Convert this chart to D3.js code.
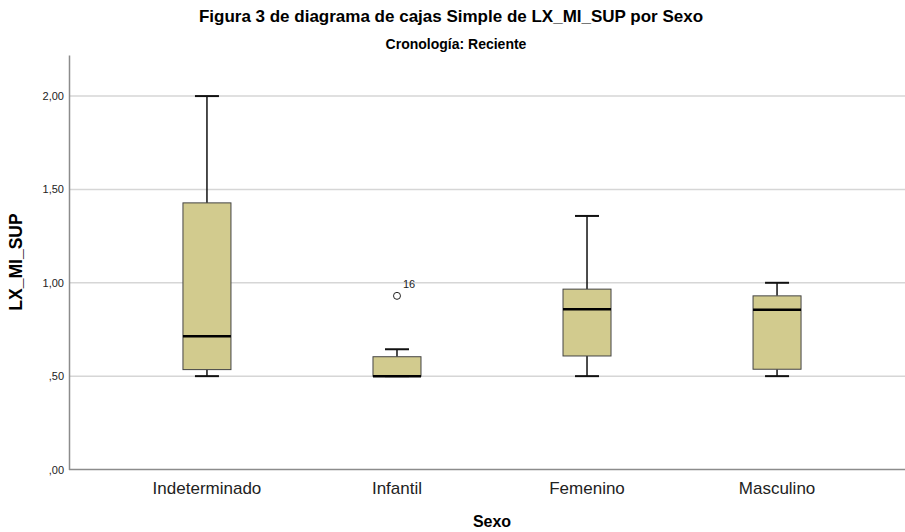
<!DOCTYPE html>
<html>
<head>
<meta charset="utf-8">
<script src="https://cdn.jsdelivr.net/npm/d3@7"></script>
<style>
  body { margin: 0; background: #fff; }
  text { font-family: "Liberation Sans Narrow", "Liberation Sans", Arial, sans-serif; }
</style>
</head>
<body>
<svg id="chart"></svg>
<script>
// data
const categories = ['Indeterminado', 'Infantil', 'Femenino', 'Masculino'];
const whiskerLow = [0.50, 0.50, 0.50, 0.50];
const q1 = [0.535, 0.50, 0.608, 0.537];
const medians = [0.714, 0.50, 0.858, 0.856];
const q3 = [1.428, 0.604, 0.966, 0.93];
const whiskerHigh = [2.00, 0.644, 1.358, 1.00];
const outliers = [{cat: 'Infantil', value: 0.93, label: '16'}];
const yTicks = [0, 0.5, 1, 1.5, 2];
const yTickLabels = [',00', ',50', '1,00', '1,50', '2,00'];

const width = 905, height = 532;
const svg = d3.select('#chart').attr('width', width).attr('height', height);

// scales
const x = d3.scaleBand()
  .domain(categories)
  .range([69, 915]) // plot runs a bit past the right edge
  .paddingOuter(0.226)
  .paddingInner(0);
const y = d3.scaleLinear()
  .domain([0, 2.22])
  .range([469.5, 55]);

// gridlines
svg.append('g')
  .selectAll('line')
  .data(yTicks.filter(d => d > 0))
  .enter()
  .append('line')
    .attr('x1', 69).attr('x2', width)
    .attr('y1', d => y(d)).attr('y2', d => y(d))
    .attr('stroke', '#d6d6d6')
    .attr('stroke-width', 1.5);

// y axis
const yAxis = d3.axisLeft(y).tickValues(yTicks).tickSize(0).tickPadding(5)
  .tickFormat((d, i) => yTickLabels[i]);
const gy = svg.append('g').attr('transform', 'translate(69,0)').call(yAxis);
gy.select('.domain').attr('stroke', '#8c8c8c').attr('stroke-width', 1.5);
gy.selectAll('text').attr('font-size', 11).attr('fill', '#222')
  .style('font-family', '"Liberation Sans", Arial, sans-serif');

// x axis
const xAxis = d3.axisBottom(x).tickSize(0).tickPadding(12);
const gx = svg.append('g').attr('transform', 'translate(0,469.5)').call(xAxis);
gx.select('.domain').attr('d', 'M69,0H' + width).attr('stroke', '#8c8c8c').attr('stroke-width', 1.5);
gx.selectAll('text').attr('font-size', 17).attr('fill', '#222');

// boxes
const boxW = 48, capW = 24;
const boxes = categories.map((c, i) => ({
  cat: c, lo: whiskerLow[i], q1: q1[i], med: medians[i], q3: q3[i], hi: whiskerHigh[i]
}));
const g = svg.append('g').selectAll('g').data(boxes).enter().append('g')
  .attr('transform', d => 'translate(' + (x(d.cat) + x.bandwidth() / 2) + ',0)');

g.append('line') // upper whisker
  .attr('x1', 0).attr('x2', 0)
  .attr('y1', d => y(d.q3)).attr('y2', d => y(d.hi))
  .attr('stroke', '#111').attr('stroke-width', 1.5);
g.append('line') // lower whisker
  .attr('x1', 0).attr('x2', 0)
  .attr('y1', d => y(d.q1)).attr('y2', d => y(d.lo))
  .attr('stroke', '#111').attr('stroke-width', 1.5);
g.append('line')
  .attr('x1', -capW / 2).attr('x2', capW / 2)
  .attr('y1', d => y(d.hi)).attr('y2', d => y(d.hi))
  .attr('stroke', '#111').attr('stroke-width', 2);
g.append('line')
  .attr('x1', -capW / 2).attr('x2', capW / 2)
  .attr('y1', d => y(d.lo)).attr('y2', d => y(d.lo))
  .attr('stroke', '#111').attr('stroke-width', 2);
g.append('rect')
  .attr('x', -boxW / 2).attr('width', boxW)
  .attr('y', d => y(d.q3))
  .attr('height', d => y(d.q1) - y(d.q3))
  .attr('fill', '#d2cb8e')
  .attr('stroke', '#444').attr('stroke-width', 1);
g.append('line') // median
  .attr('x1', -boxW / 2).attr('x2', boxW / 2)
  .attr('y1', d => y(d.med)).attr('y2', d => y(d.med))
  .attr('stroke', '#000').attr('stroke-width', 2.5);

// outliers
const og = svg.append('g').selectAll('g').data(outliers).enter().append('g');
og.append('circle')
  .attr('cx', d => x(d.cat) + x.bandwidth() / 2)
  .attr('cy', d => y(d.value))
  .attr('r', 3.5)
  .attr('fill', 'none').attr('stroke', '#222').attr('stroke-width', 1);
og.append('text')
  .attr('x', d => x(d.cat) + x.bandwidth() / 2 + 6)
  .attr('y', d => y(d.value) - 8)
  .attr('font-size', 11).attr('fill', '#222')
  .style('font-family', '"Liberation Sans", Arial, sans-serif')
  .text(d => d.label);

// titles
svg.append('text')
  .attr('x', 451).attr('y', 22)
  .attr('text-anchor', 'middle')
  .attr('font-size', 17).attr('font-weight', 'bold')
  .text('Figura 3 de diagrama de cajas Simple de LX_MI_SUP por Sexo');
svg.append('text')
  .attr('x', 456).attr('y', 49)
  .attr('text-anchor', 'middle')
  .attr('font-size', 14).attr('font-weight', 'bold')
  .text('Cronología: Reciente');
svg.append('text')
  .attr('x', 492).attr('y', 527)
  .attr('text-anchor', 'middle')
  .attr('font-size', 16).attr('font-weight', 'bold')
  .text('Sexo');
svg.append('text')
  .attr('transform', 'translate(22,262) rotate(-90)')
  .attr('text-anchor', 'middle')
  .attr('font-size', 17.5).attr('font-weight', 'bold')
  .style('font-family', '"Liberation Sans", Arial, sans-serif')
  .text('LX_MI_SUP');
</script>
</body>
</html>
